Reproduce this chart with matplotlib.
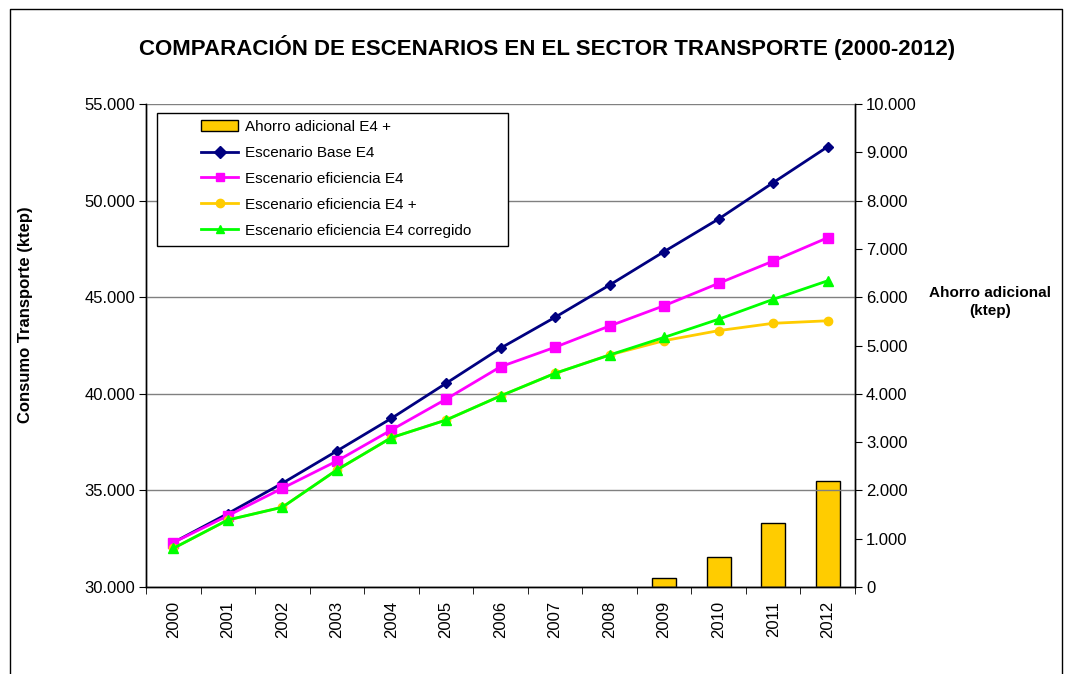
import matplotlib.pyplot as plt
from matplotlib.ticker import FuncFormatter, MultipleLocator
from matplotlib.lines import Line2D
from matplotlib.patches import Rectangle

plt.rcParams["font.family"] = ["Liberation Sans", "DejaVu Sans"]

years = [str(y) for y in range(2000, 2013)]
base_e4 = [32300, 33800, 35370, 37040, 38730, 40540, 42360, 43960, 45630,
           47360, 49050, 50930, 52790]
eficiencia_e4 = [32300, 33690, 35110, 36520, 38130, 39720, 41400, 42410, 43510,
                 44560, 45720, 46870, 48080]
eficiencia_e4_plus = [32000, 33470, 34130, 36060, 37730, 38640, 39890, 41060, 42010,
                      42750, 43270, 43650, 43780]
eficiencia_corregido = [32000, 33470, 34130, 36060, 37730, 38640, 39890, 41060, 42010,
                        42920, 43860, 44890, 45850]
ahorro_years = ["2009", "2010", "2011", "2012"]
ahorro = [190, 620, 1320, 2200]

W, H = 1068, 674


def miles(v, pos):
    return f"{int(round(v)):,}".replace(",", ".")


fig = plt.figure(figsize=(W / 100, H / 100), dpi=100)
ax = fig.add_axes([146 / W, 1 - 587 / H, (855 - 146) / W, (587 - 104) / H])
ax2 = ax.twinx()

x = list(range(len(years)))
xb = [years.index(y) for y in ahorro_years]
ax2.bar(xb, ahorro, width=0.44, color="#FFCC00", edgecolor="black", linewidth=1)

ax.set_zorder(ax2.get_zorder() + 1)
ax.patch.set_visible(False)

l1, = ax.plot(x, base_e4, color="#000080", marker="D", markersize=5, lw=2,
              label="Escenario Base E4")
l2, = ax.plot(x, eficiencia_e4, color="#FF00FF", marker="s", markersize=7, lw=2,
              label="Escenario eficiencia E4")
l3, = ax.plot(x, eficiencia_e4_plus, color="#FFCC00", marker="o", markersize=6, lw=2,
              label="Escenario eficiencia E4 +")
l4, = ax.plot(x, eficiencia_corregido, color="#00FF00", marker="^", markersize=7, lw=2,
              label="Escenario eficiencia E4 corregido")

ax.set_xlim(-0.5, len(years) - 0.5)
ax.set_ylim(30000, 55000)
ax2.set_ylim(0, 10000)
ax.yaxis.set_major_locator(MultipleLocator(5000))
ax2.yaxis.set_major_locator(MultipleLocator(1000))
ax.yaxis.set_major_formatter(FuncFormatter(miles))
ax2.yaxis.set_major_formatter(FuncFormatter(miles))
ax.set_xticks(x)
ax.set_xticklabels(years, rotation=90)
# tick marks between categories
ax.set_xticks([i - 0.5 for i in range(len(years) + 1)], minor=True)
ax.tick_params(axis="x", which="major", length=0, labelsize=12, pad=10)
ax.tick_params(axis="x", which="minor", length=5, direction="out")
ax.tick_params(axis="y", labelsize=12, length=5, direction="out", pad=3)
ax2.tick_params(axis="y", labelsize=12, length=5, direction="out", pad=3)

ax.grid(axis="y", color="#808080", lw=1)
ax.set_axisbelow(True)
for a in (ax, ax2):
    a.spines["top"].set_visible(False)
    for s in a.spines.values():
        s.set_linewidth(1)

fig.text(26 / W, 1 - 315 / H, "Consumo Transporte (ktep)", rotation=90,
         ha="center", va="center", fontsize=12, fontweight="bold")
fig.text(990 / W, 1 - 302 / H, "Ahorro adicional\n(ktep)", ha="center", va="center",
         fontsize=11, fontweight="bold", linespacing=1.35)
fig.text(547 / W, 1 - 47 / H,
         "COMPARACIÓN DE ESCENARIOS EN EL SECTOR TRANSPORTE (2000-2012)",
         ha="center", va="center", fontsize=16, fontweight="bold")

# legend: frame drawn separately, entries start well inside it
fig.add_artist(Rectangle((157 / W, 1 - 246 / H), (508 - 157) / W, (246 - 113) / H,
                         transform=fig.transFigure, facecolor="white",
                         edgecolor="black", lw=1, zorder=4))
bar_handle = Rectangle((0, 0), 1, 1, facecolor="#FFCC00", edgecolor="black")
leg = fig.legend([bar_handle, l1, l2, l3, l4],
                 ["Ahorro adicional E4 +", l1.get_label(), l2.get_label(),
                  l3.get_label(), l4.get_label()],
                 loc="upper left", bbox_to_anchor=(201 / W, 1 - 120 / H),
                 bbox_transform=fig.transFigure, fontsize=11, frameon=False,
                 borderpad=0, labelspacing=0.78, handlelength=2.45,
                 handletextpad=0.4, borderaxespad=0)
leg.set_zorder(5)
for h in leg.legend_handles[1:]:
    h.set_markersize(6)

# outer chart border
fig.add_artist(Line2D([10 / W, 10 / W, 1062 / W, 1062 / W],
                      [0, 1 - 9 / H, 1 - 9 / H, 0],
                      transform=fig.transFigure, color="black", lw=1))

fig.savefig("out.png", dpi=100)
